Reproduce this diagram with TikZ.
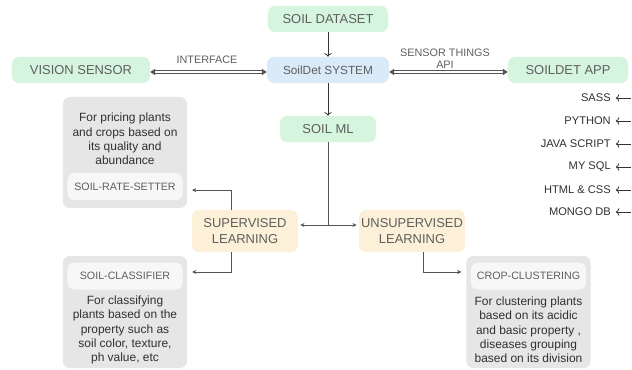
\documentclass[tikz,border=0pt]{standalone}
\usepackage{fontspec}
\setmainfont{Liberation Sans}
\usepackage{xcolor}
\usepackage{tikz}
\usetikzlibrary{positioning,arrows.meta}
\definecolor{mintbox}{HTML}{D6F5DF}
\definecolor{skybox}{HTML}{DAEAF9}
\definecolor{sandbox}{HTML}{FCF1D8}
\definecolor{notebox}{HTML}{E6E6E6}
\definecolor{tagbox}{HTML}{F7F7F7}
\definecolor{labelgray}{HTML}{5E5E5E}
\definecolor{notetext}{HTML}{303030}
\definecolor{linkgray}{HTML}{555555}

\begin{document}
\begin{tikzpicture}[x=0.025cm, y=-0.025cm,
  box/.style={rounded corners=5pt, inner sep=0pt, minimum height=0.65cm, text=labelgray, font=\fontsize{9.2}{11}\selectfont},
  greenbox/.style={box, fill=mintbox},
  learnbox/.style={box, fill=sandbox, minimum width=2.65cm, minimum height=1.05cm, align=center},
  notebg/.style={rounded corners=5pt, fill=notebox, minimum width=3.1cm, inner sep=0pt},
  tag/.style={rounded corners=5pt, fill=tagbox, minimum width=2.875cm, minimum height=0.675cm, inner sep=0pt, text=labelgray, font=\fontsize{7.6}{9}\selectfont},
  note/.style={align=center, text=notetext, font=\fontsize{8.5}{10.2}\selectfont, inner sep=0pt},
  tech/.style={anchor=east, text=notetext, font=\fontsize{7.9}{9}\selectfont, inner sep=0pt},
  apilabel/.style={text=labelgray, font=\fontsize{7.7}{8.6}\selectfont, align=center, inner sep=0pt},
  link/.style={draw=linkgray, line width=0.7pt, -{Stealth[length=3pt,width=3pt]}},
  down/.style={draw=black!80, line width=0.6pt, -{To[length=2.5pt]}},
  api/.style={draw=linkgray, double=white, double distance=1.2pt, line width=0.5pt, {Triangle[length=3.5pt,width=4.5pt]}-{Triangle[length=3.5pt,width=4.5pt]}}
]
\useasboundingbox (0,0) rectangle (632,369);

% top row
\node[greenbox, minimum width=3cm] (dataset) at (328,19) {SOIL DATASET};
\node[box, fill=skybox, minimum width=3.05cm, font=\fontsize{8.4}{10}\selectfont] (system) at (328,70) {SoilDet SYSTEM};
\node[greenbox, minimum width=3.45cm] (vision) at (81,70) {VISION SENSOR};
\node[greenbox, minimum width=3cm] (app) at (568,70) {SOILDET APP};
\node[greenbox, minimum width=2.4cm] (soilml) at (328,129) {SOIL ML};

\draw[down] (dataset) -- (system);
\draw[down] (system) -- (soilml);
\draw[api] ([yshift=-0.05cm]vision.east) -- ([yshift=-0.05cm]system.west);
\draw[api] ([yshift=-0.05cm]system.east) -- ([yshift=-0.05cm]app.west);
\node[apilabel] (iface) at (207,60) {INTERFACE};
\node[apilabel] (things) at (445,59) {SENSOR THINGS\\API};

% tech stack
\foreach \name/\label/\yy in {sass/SASS/98, python/PYTHON/121, java/JAVA SCRIPT/144,
    mysql/MY SQL/167, html/HTML \& CSS/190, mongo/MONGO DB/212} {
  \node[tech] (\name) at (611,\yy) {\label};
  \coordinate (\name end) at (631,\yy);
  \draw[down] (\name end) -- ([xshift=0.12cm]\name.east);
}

% learning
\node[learnbox] (super) at (245,231) {SUPERVISED\\LEARNING};
\node[learnbox] (unsuper) at (412,231) {UNSUPERVISED\\LEARNING};
\coordinate (split) at (328,225);
\draw[linkgray, line width=0.7pt] (soilml.south) -- (split);
\draw[link] (split) -- ([xshift=0.05cm]split -| super.east);
\draw[link] (split) -- ([xshift=-0.05cm]split -| unsuper.west);

% notes
\node[notebg, minimum height=2.775cm] (pricebox) at (125,152.5) {};
\node[tag] (ratetag) at (125,186.5) {SOIL-RATE-SETTER};
\node[note] (pricetext) at (125,139) {For pricing plants\\and crops based on\\its quality and\\abundance};

\node[notebg, minimum height=2.8cm] (classbox) at (125,312) {};
\node[tag] (classtag) at (125,276) {SOIL-CLASSIFIER};
\node[note] (classtext) at (125,330) {For classifying\\plants based on the\\property such as\\soil color, texture,\\ph value, etc};

\node[notebg, minimum height=2.8cm] (clusterbox) at (528.5,312) {};
\node[tag] (clustertag) at (528.5,276) {CROP-CLUSTERING};
\node[note] (clustertext) at (528.5,330) {For clustering plants\\based on its acidic\\and basic property ,\\diseases grouping\\based on its division};

\draw[link, shorten >=0.12cm] ([xshift=-0.33cm]super.north) |- ([yshift=-0.09cm]pricebox.east |- ratetag);
\draw[link, shorten >=0.12cm] ([xshift=-0.33cm]super.south) |- ([yshift=0.1cm]classbox.east |- classtag);
\draw[link, shorten >=0.12cm] ([xshift=0.28cm]unsuper.south) |- ([yshift=0.1cm]clusterbox.west |- clustertag);
\end{tikzpicture}
\end{document}
